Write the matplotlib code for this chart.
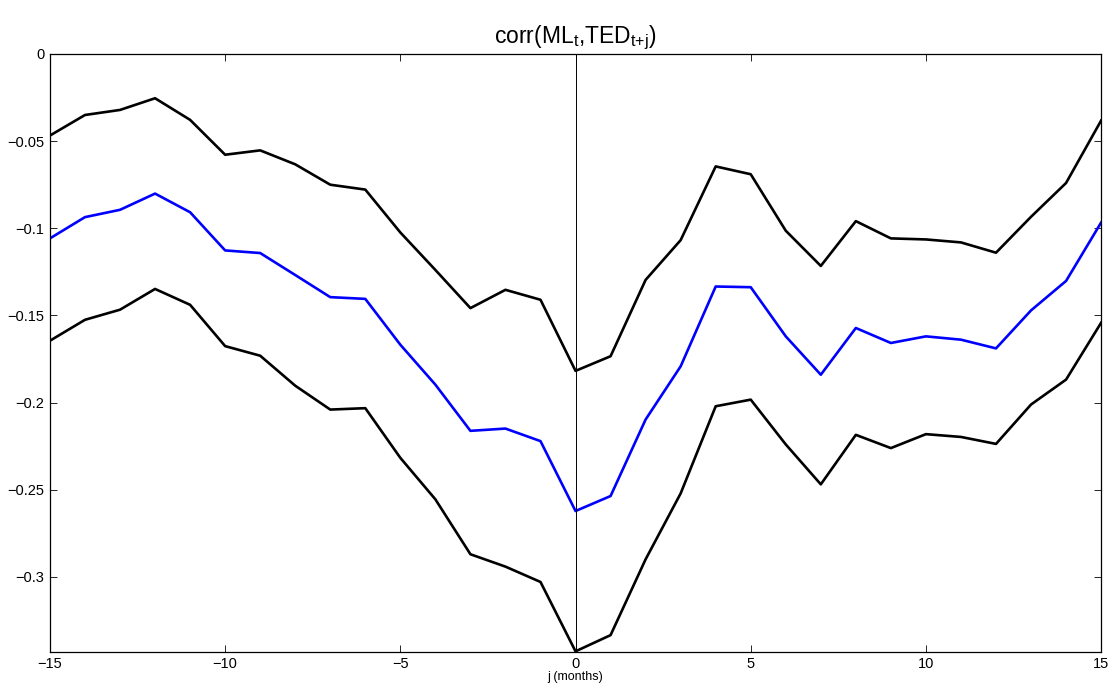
import numpy as np
import matplotlib
matplotlib.use('Agg')
import matplotlib.pyplot as plt

plt.rcParams['font.family'] = ['Liberation Sans', 'DejaVu Sans']
plt.rcParams['mathtext.fontset'] = 'custom'
plt.rcParams['mathtext.rm'] = 'Liberation Sans'
plt.rcParams['mathtext.it'] = 'Liberation Sans'

# lags j (months)
j = np.arange(-15, 16)

# point estimate (blue) and upper / lower bands (black)
corr = [-0.1058, -0.0936, -0.0894, -0.0801, -0.0908, -0.1127, -0.1142, -0.1268,
        -0.1395, -0.1405, -0.1668, -0.1897, -0.2162, -0.2149, -0.2221, -0.2622,
        -0.2536, -0.2097, -0.1792, -0.1334, -0.1338, -0.1620, -0.1840, -0.1572,
        -0.1658, -0.1620, -0.1639, -0.1689, -0.1471, -0.1302, -0.0967]
upper = [-0.0468, -0.0350, -0.0321, -0.0254, -0.0378, -0.0578, -0.0553, -0.0633,
         -0.0750, -0.0778, -0.1024, -0.1239, -0.1458, -0.1353, -0.1410, -0.1818,
         -0.1734, -0.1296, -0.1068, -0.0645, -0.0690, -0.1014, -0.1216, -0.0959,
         -0.1058, -0.1064, -0.1081, -0.1140, -0.0934, -0.0740, -0.0382]
lower = [-0.1645, -0.1525, -0.1467, -0.1348, -0.1439, -0.1676, -0.1731, -0.1903,
         -0.2040, -0.2032, -0.2317, -0.2555, -0.2870, -0.2941, -0.3029, -0.3427,
         -0.3334, -0.2899, -0.2521, -0.2021, -0.1983, -0.2240, -0.2469, -0.2185,
         -0.2261, -0.2181, -0.2197, -0.2237, -0.2011, -0.1868, -0.1542]

xticks = [-15, -10, -5, 0, 5, 10, 15]
yticks = [0, -0.05, -0.1, -0.15, -0.2, -0.25, -0.3]
ytick_labels = ['0', '\u22120.05', '\u22120.1', '\u22120.15', '\u22120.2', '\u22120.25', '\u22120.3']
xtick_labels = ['\u221215', '\u221210', '\u22125', '0', '5', '10', '15']

fig = plt.figure(figsize=(11.1, 6.92), dpi=100)
ax = fig.add_axes([0.045, 0.058, 0.947, 0.864])

ax.plot(j, upper, color='black', lw=1.9)
ax.plot(j, corr, color=(0, 0, 1), lw=1.9)
ax.plot(j, lower, color='black', lw=1.9)
ax.axvline(0, color='black', lw=0.7)

ax.set_xlim(-15, 15)
ax.set_ylim(-0.343, 0)
ax.set_xticks(xticks)
ax.set_xticklabels(xtick_labels)
ax.set_yticks(yticks)
ax.set_yticklabels(ytick_labels)
ax.tick_params(direction='in', length=5, width=0.6, labelsize=10.5,
               top=True, right=True, pad=4)
for s in ax.spines.values():
    s.set_linewidth(0.9)

ax.set_title(r'corr(ML$_{t}$,TED$_{t{+}j}$)', fontsize=16.5, pad=8)
ax.set_xlabel('j (months)', fontsize=9, labelpad=0)

fig.savefig('out.png', dpi=100)
